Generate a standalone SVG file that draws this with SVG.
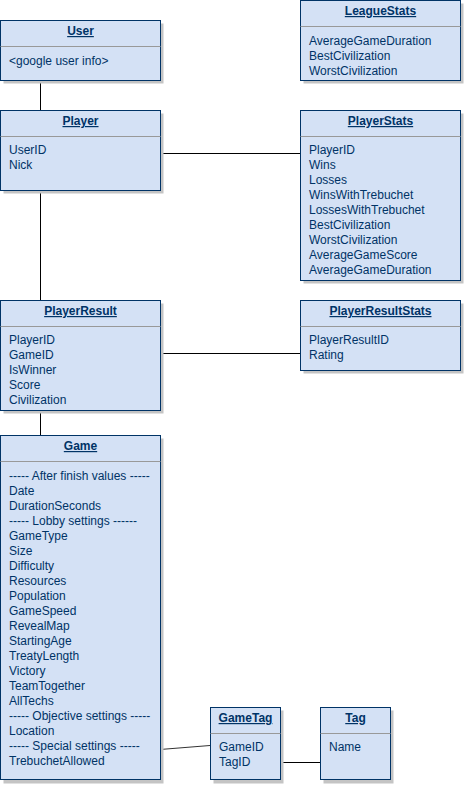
<svg xmlns="http://www.w3.org/2000/svg" width="464" height="787" viewBox="0 0 464 787">
<defs>
<style>
.box{fill:#d4e1f5;stroke:#003366;stroke-width:1}
.sh{fill:#c4c4c4;stroke:none}
.sep{stroke:#999999;stroke-width:1}
text{font-family:"Liberation Sans",Arial,sans-serif;font-size:12px;fill:#003366}
.t{font-weight:bold;text-anchor:middle;text-decoration:underline}
.c{stroke:#000000;stroke-width:1;fill:none}
</style>
</defs>
<rect width="464" height="787" fill="#ffffff"/>
<g id="connectors">
<line class="c" x1="40.5" y1="80" x2="40.5" y2="110"/>
<line class="c" x1="160" y1="153.5" x2="300" y2="153.5"/>
<line class="c" x1="40.5" y1="190" x2="40.5" y2="300"/>
<line class="c" x1="160" y1="353.5" x2="300" y2="353.5"/>
<line class="c" x1="40.5" y1="410" x2="40.5" y2="435"/>
<line class="c" x1="160" y1="749.5" x2="210" y2="745.5" style="stroke:#333"/>
<line class="c" x1="280" y1="762.5" x2="320" y2="762.5"/>
</g>
<g id="User">
<rect class="sh" x="3.5" y="23.5" width="160" height="60"/>
<rect class="box" x="0.5" y="20.5" width="160" height="60"/>
<line class="sep" x1="0.5" y1="46.5" x2="160.5" y2="46.5"/>
<text class="t" x="80.5" y="35">User</text>
<text x="9" y="65">&lt;google user info&gt;</text>
</g>
<g id="LeagueStats">
<rect class="sh" x="303.5" y="3.5" width="160" height="80"/>
<rect class="box" x="300.5" y="0.5" width="160" height="80"/>
<line class="sep" x1="300.5" y1="26.5" x2="460.5" y2="26.5"/>
<text class="t" x="380.5" y="15">LeagueStats</text>
<text x="309" y="45">AverageGameDuration</text>
<text x="309" y="60">BestCivilization</text>
<text x="309" y="75">WorstCivilization</text>
</g>
<g id="Player">
<rect class="sh" x="3.5" y="113.5" width="160" height="80"/>
<rect class="box" x="0.5" y="110.5" width="160" height="80"/>
<line class="sep" x1="0.5" y1="136.5" x2="160.5" y2="136.5"/>
<text class="t" x="80.5" y="125">Player</text>
<text x="9" y="154">UserID</text>
<text x="9" y="169">Nick</text>
</g>
<g id="PlayerStats">
<rect class="sh" x="303.5" y="113.5" width="160" height="170"/>
<rect class="box" x="300.5" y="110.5" width="160" height="170"/>
<line class="sep" x1="300.5" y1="136.5" x2="460.5" y2="136.5"/>
<text class="t" x="380.5" y="125">PlayerStats</text>
<text x="309" y="154">PlayerID</text>
<text x="309" y="169">Wins</text>
<text x="309" y="184">Losses</text>
<text x="309" y="199">WinsWithTrebuchet</text>
<text x="309" y="214">LossesWithTrebuchet</text>
<text x="309" y="229">BestCivilization</text>
<text x="309" y="244">WorstCivilization</text>
<text x="309" y="259">AverageGameScore</text>
<text x="309" y="274">AverageGameDuration</text>
</g>
<g id="PlayerResult">
<rect class="sh" x="3.5" y="303.5" width="160" height="110"/>
<rect class="box" x="0.5" y="300.5" width="160" height="110"/>
<line class="sep" x1="0.5" y1="326.5" x2="160.5" y2="326.5"/>
<text class="t" x="80.5" y="315">PlayerResult</text>
<text x="9" y="344">PlayerID</text>
<text x="9" y="359">GameID</text>
<text x="9" y="374">IsWinner</text>
<text x="9" y="389">Score</text>
<text x="9" y="404">Civilization</text>
</g>
<g id="PlayerResultStats">
<rect class="sh" x="303.5" y="303.5" width="160" height="70"/>
<rect class="box" x="300.5" y="300.5" width="160" height="70"/>
<line class="sep" x1="300.5" y1="326.5" x2="460.5" y2="326.5"/>
<text class="t" x="380.5" y="315">PlayerResultStats</text>
<text x="309" y="344">PlayerResultID</text>
<text x="309" y="359">Rating</text>
</g>
<g id="Game">
<rect class="sh" x="3.5" y="438.5" width="160" height="345"/>
<rect class="box" x="0.5" y="435.5" width="160" height="344"/>
<line class="sep" x1="0.5" y1="461.5" x2="160.5" y2="461.5"/>
<text class="t" x="80.5" y="450">Game</text>
<text x="9" y="480">----- After finish values -----</text>
<text x="9" y="495">Date</text>
<text x="9" y="510">DurationSeconds</text>
<text x="9" y="525">----- Lobby settings ------</text>
<text x="9" y="540">GameType</text>
<text x="9" y="555">Size</text>
<text x="9" y="570">Difficulty</text>
<text x="9" y="585">Resources</text>
<text x="9" y="600">Population</text>
<text x="9" y="615">GameSpeed</text>
<text x="9" y="630">RevealMap</text>
<text x="9" y="645">StartingAge</text>
<text x="9" y="660">TreatyLength</text>
<text x="9" y="675">Victory</text>
<text x="9" y="690">TeamTogether</text>
<text x="9" y="705">AllTechs</text>
<text x="9" y="720">----- Objective settings -----</text>
<text x="9" y="735">Location</text>
<text x="9" y="750">----- Special settings -----</text>
<text x="9" y="765">TrebuchetAllowed</text>
</g>
<g id="GameTag">
<rect class="sh" x="213.5" y="710.5" width="70" height="73"/>
<rect class="box" x="210.5" y="707.5" width="70" height="72"/>
<line class="sep" x1="210.5" y1="733.5" x2="280.5" y2="733.5"/>
<text class="t" x="245.5" y="722">GameTag</text>
<text x="219" y="751">GameID</text>
<text x="219" y="766">TagID</text>
</g>
<g id="Tag">
<rect class="sh" x="323.5" y="710.5" width="70" height="73"/>
<rect class="box" x="320.5" y="707.5" width="70" height="72"/>
<line class="sep" x1="320.5" y1="733.5" x2="390.5" y2="733.5"/>
<text class="t" x="355.5" y="722">Tag</text>
<text x="329" y="751">Name</text>
</g>
</svg>
